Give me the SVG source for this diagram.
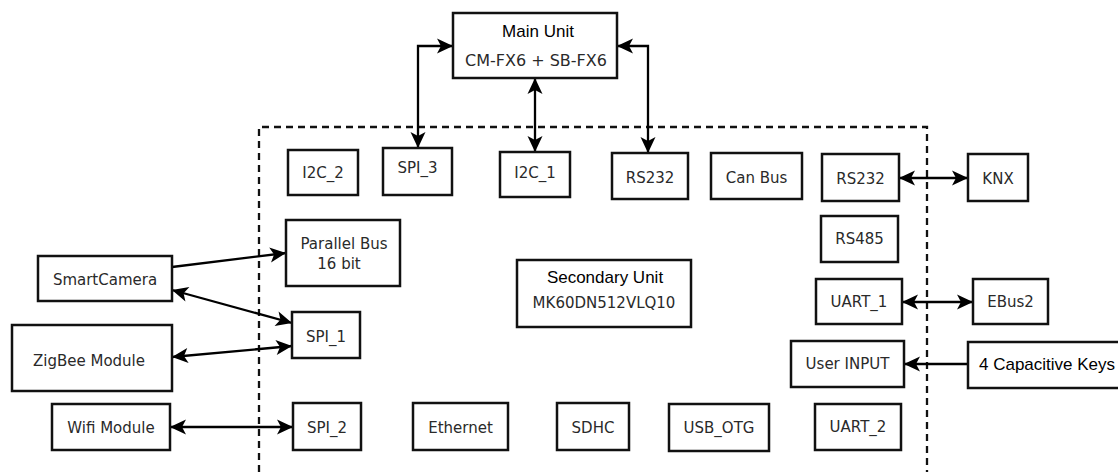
<svg xmlns="http://www.w3.org/2000/svg" width="1118" height="472" viewBox="0 0 1118 472">
<defs>
<style>
.box{fill:#fff;stroke:#111;stroke-width:2.5}
.lbl{font-family:"DejaVu Sans",sans-serif;font-size:15px;fill:#2a2a2a;text-anchor:middle}
.big{font-family:"Liberation Sans",Arial,sans-serif;font-size:17px;fill:#000;text-anchor:middle}
.con{fill:none;stroke:#000;stroke-width:2.3}
.bound{fill:none;stroke:#111;stroke-width:2.3;stroke-dasharray:7 5}
</style>
<marker id="ah" markerUnits="userSpaceOnUse" markerWidth="18" markerHeight="18" viewBox="0 0 18 18" refX="17" refY="9" orient="auto-start-reverse">
<path d="M1,1.5 L17,9 L1,16.5 L5,9 Z" fill="#000"/>
</marker>
</defs>
<rect width="1118" height="472" fill="#fff"/>
<path class="bound" d="M259,472 L259,127 L927,127 L927,472"/>
<g id="connectors">
<path class="con" d="M418,148 L418,46 L453,46" marker-start="url(#ah)" marker-end="url(#ah)"/>
<path class="con" d="M535,152 L535,78" marker-start="url(#ah)" marker-end="url(#ah)"/>
<path class="con" d="M648,153 L648,46 L617,46" marker-start="url(#ah)" marker-end="url(#ah)"/>
<path class="con" d="M899,178 L968,178" marker-start="url(#ah)" marker-end="url(#ah)"/>
<path class="con" d="M902,302 L973,302" marker-start="url(#ah)" marker-end="url(#ah)"/>
<path class="con" d="M968,364 L904,364" marker-end="url(#ah)"/>
<path class="con" d="M172,267 L286,253" marker-end="url(#ah)"/>
<path class="con" d="M172,290 L292,323" marker-start="url(#ah)" marker-end="url(#ah)"/>
<path class="con" d="M172,357 L292,346" marker-start="url(#ah)" marker-end="url(#ah)"/>
<path class="con" d="M170,427 L293,427" marker-start="url(#ah)" marker-end="url(#ah)"/>
</g>
<g id="main-unit"><rect class="box" x="453" y="13" width="164" height="65"/><text class="big" x="538" y="37">Main Unit</text><text class="lbl" x="536" y="66" style="font-size:16px">CM-FX6 + SB-FX6</text></g>
<g id="i2c2"><rect class="box" x="288" y="150" width="70" height="45"/><text class="lbl" x="323" y="178">I2C_2</text></g>
<g id="spi3"><rect class="box" x="383" y="148" width="69" height="47"/><text class="lbl" x="417.5" y="173">SPI_3</text></g>
<g id="i2c1"><rect class="box" x="500" y="152" width="70" height="45"/><text class="lbl" x="535" y="178">I2C_1</text></g>
<g id="rs232a"><rect class="box" x="612" y="153" width="76" height="46"/><text class="lbl" x="650" y="183">RS232</text></g>
<g id="canbus"><rect class="box" x="711" y="153" width="91" height="46"/><text class="lbl" x="756.5" y="183">Can Bus</text></g>
<g id="rs232b"><rect class="box" x="822" y="154" width="77" height="47"/><text class="lbl" x="860.5" y="184">RS232</text></g>
<g id="knx"><rect class="box" x="968" y="154" width="60" height="47"/><text class="lbl" x="998" y="184">KNX</text></g>
<g id="rs485"><rect class="box" x="821" y="216" width="77" height="46"/><text class="lbl" x="859.5" y="244">RS485</text></g>
<g id="parallel-bus"><rect class="box" x="286" y="220" width="114" height="66"/><text class="lbl" x="344" y="249">Parallel Bus</text><text class="lbl" x="339" y="269">16 bit</text></g>
<g id="secondary-unit"><rect class="box" x="517" y="260" width="174" height="67"/><text class="big" x="605" y="283">Secondary Unit</text><text class="lbl" x="604" y="308">MK60DN512VLQ10</text></g>
<g id="uart1"><rect class="box" x="816" y="279" width="86" height="45"/><text class="lbl" x="859" y="307">UART_1</text></g>
<g id="ebus2"><rect class="box" x="973" y="279" width="75" height="45"/><text class="lbl" x="1010.5" y="307">EBus2</text></g>
<g id="user-input"><rect class="box" x="791" y="341" width="113" height="46"/><text class="lbl" x="847.5" y="369">User INPUT</text></g>
<g id="cap-keys"><rect class="box" x="968" y="342" width="156" height="46"/><text class="big" x="979" y="370" style="text-anchor:start">4 Capacitive Keys</text></g>
<g id="smartcamera"><rect class="box" x="38" y="256" width="134" height="45"/><text class="lbl" x="105" y="285">SmartCamera</text></g>
<g id="spi1"><rect class="box" x="292" y="312" width="68" height="46"/><text class="lbl" x="326" y="342">SPI_1</text></g>
<g id="zigbee"><rect class="box" x="12" y="325" width="160" height="66"/><text class="lbl" x="89" y="366">ZigBee Module</text></g>
<g id="wifi"><rect class="box" x="52" y="404" width="118" height="46"/><text class="lbl" x="111" y="433">Wifi Module</text></g>
<g id="spi2"><rect class="box" x="293" y="403" width="68" height="47"/><text class="lbl" x="327" y="433">SPI_2</text></g>
<g id="ethernet"><rect class="box" x="413" y="403" width="95" height="47"/><text class="lbl" x="460.5" y="433">Ethernet</text></g>
<g id="sdhc"><rect class="box" x="557" y="403" width="72" height="47"/><text class="lbl" x="593" y="433">SDHC</text></g>
<g id="usb-otg"><rect class="box" x="669" y="404" width="100" height="47"/><text class="lbl" x="719" y="433">USB_OTG</text></g>
<g id="uart2"><rect class="box" x="815" y="404" width="86" height="46"/><text class="lbl" x="858" y="432">UART_2</text></g>
</svg>
